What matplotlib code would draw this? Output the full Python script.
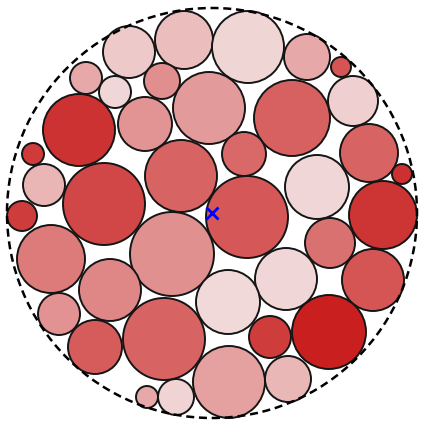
import matplotlib
matplotlib.use("Agg")
import matplotlib.pyplot as plt
from matplotlib.colors import LinearSegmentedColormap
from matplotlib.patches import Circle

# circle centres (x right, y up, relative to enclosing circle centre), radii, shade value
cx = [-28, 36, -83, 95, 129, -126, -97, -50, -3, -133, -67, 80, 141, -179, -168,
      -31, 32, 157, 190, 105, -108, -190, 35, 171, 118, -40, -161, 74, -102, 161,
      16, -153, -48, -117, 58, 117, 17, 76, -36, -65]
cy = [173, 166, 161, 156, 146, 135, 121, 132, 105, 83, 89, 95, 112, 59, 28,
      37, 59, 60, 39, 26, 9, -3, -4, -2, -30, -41, -46, -66, -77, -67,
      -89, -101, -126, -134, -124, -119, -169, -166, -184, -184]
cr = [29, 36, 26, 23, 10, 16, 16, 18, 36, 36, 27, 38, 25, 11, 21,
      36, 22, 29, 10, 32, 41, 15, 41, 34, 25, 42, 34, 31, 31, 31,
      32, 21, 41, 27, 21, 37, 36, 23, 18, 11]
shade = [0.17, 0.05, 0.11, 0.28, 0.70, 0.28, 0.04, 0.41, 0.35, 0.88, 0.38, 0.64, 0.08, 0.84, 0.21,
         0.63, 0.60, 0.63, 0.89, 0.04, 0.78, 0.83, 0.69, 0.87, 0.56, 0.40, 0.51, 0.04, 0.45, 0.70,
         0.03, 0.39, 0.63, 0.67, 0.83, 0.98, 0.32, 0.20, 0.06, 0.28]
outer_r = 205

cmap = LinearSegmentedColormap.from_list("pinkred", ["#f2dede", "#c81b1b"])

fig = plt.figure(figsize=(4.23, 4.23), dpi=100)
ax = fig.add_axes([0, 0, 1, 1])

for x, y, r, s in zip(cx, cy, cr, shade):
    ax.add_patch(Circle((x, y), r, facecolor=cmap(s), edgecolor="#151515", linewidth=1.4))

ax.add_patch(Circle((0, 0), outer_r, fill=False, edgecolor="black",
                    linewidth=1.8, linestyle=(0, (3.2, 1.9))))
ax.plot(0, 0, marker="x", color="blue", markersize=9, markeredgewidth=2)

ax.set_xlim(-212, 211)
ax.set_ylim(-210, 213)
ax.set_aspect("equal")
ax.axis("off")

fig.savefig("out.png", dpi=100)
